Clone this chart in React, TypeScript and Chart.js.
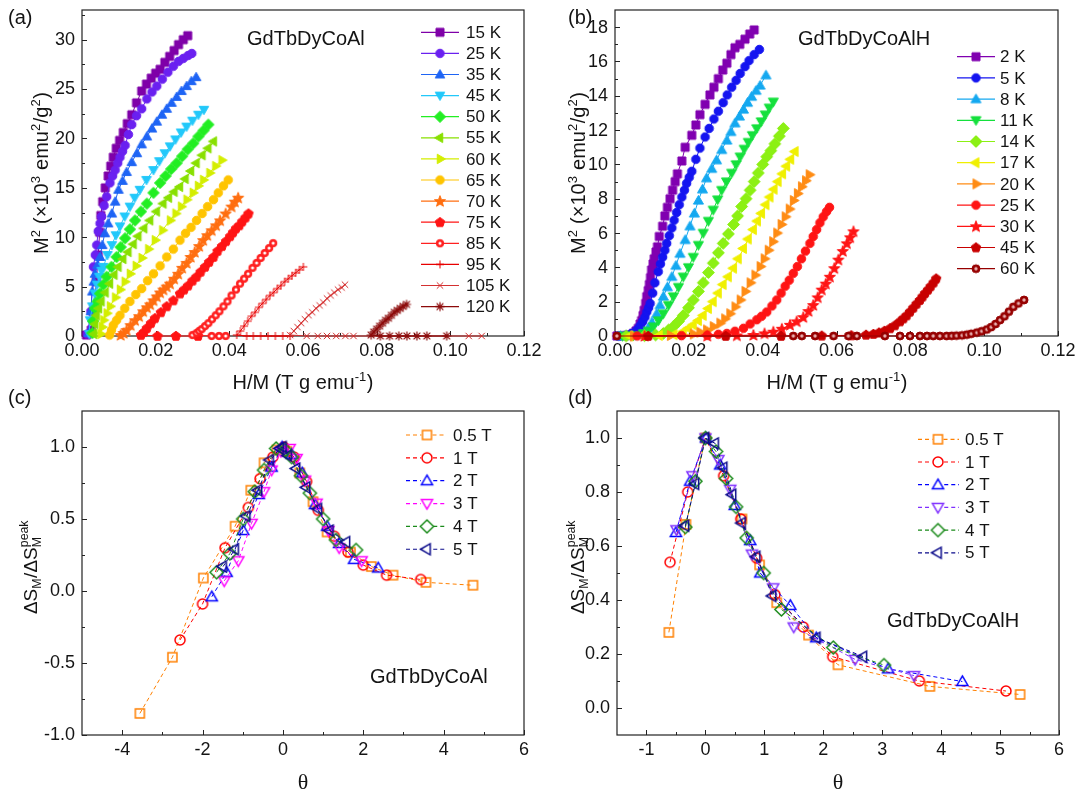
import React, { useEffect, useRef } from 'react';
import { Chart, registerables } from 'chart.js';

Chart.register(...registerables);

type Pt = [number, number];
type Seg = { t: string; k?: 'sup' | 'sub'; over?: string };

const SANS = '"Liberation Sans", Arial, Helvetica, sans-serif';
const SERIF = '"Liberation Serif", "Times New Roman", serif';
const INK = '#141414';

// ================= Panel (a) : GdTbDyCoAl Arrott plot =================
const A_X_TICKS = [0, 0.02, 0.04, 0.06, 0.08, 0.1, 0.12];
const A_X_LABELS = ['0.00', '0.02', '0.04', '0.06', '0.08', '0.10', '0.12'];
const A_X_MINOR = [0.01, 0.03, 0.05, 0.07, 0.09, 0.11];
const A_Y_TICKS = [0, 5, 10, 15, 20, 25, 30];
const A_Y_LABELS = ['0', '5', '10', '15', '20', '25', '30'];
const A_Y_MINOR = [2.5, 7.5, 12.5, 17.5, 22.5, 27.5, 32.5];
const A_TEMPS = ['15 K', '25 K', '35 K', '45 K', '50 K', '55 K', '60 K', '65 K', '70 K', '75 K', '85 K', '95 K', '105 K', '120 K'];

const A_15K: Pt[] = [[0.0012,0.1],[0.0025,0.6],[0.0033,2.8],[0.0039,5.5],[0.0044,8.2],[0.0048,10.5],[0.0051,12.2],[0.0056,13.6],[0.0063,15.0],[0.0071,16.2],[0.0078,17.2],[0.0085,18.1],[0.0093,19.0],[0.0102,19.8],[0.0112,20.6],[0.0123,21.5],[0.0135,22.4],[0.0148,23.6],[0.0162,24.8],[0.0175,25.5],[0.0188,26.1],[0.0200,26.6],[0.0212,27.0],[0.0225,27.7],[0.0238,28.3],[0.0250,28.9],[0.0262,29.5],[0.0275,30.0],[0.0287,30.4]];
const A_25K: Pt[] = [[0.0015,0.2],[0.0024,2.5],[0.0031,7.0],[0.0036,8.2],[0.0040,9.2],[0.0044,10.6],[0.0049,11.4],[0.0053,12.1],[0.0060,13.2],[0.0067,14.1],[0.0076,15.5],[0.0083,16.2],[0.0090,16.8],[0.0097,17.5],[0.0103,18.1],[0.0110,18.7],[0.0117,19.3],[0.0126,20.4],[0.0135,21.4],[0.0148,22.3],[0.0162,23.0],[0.0176,24.0],[0.0190,24.7],[0.0203,25.3],[0.0218,26.0],[0.0233,26.7],[0.0248,27.3],[0.0262,27.8],[0.0275,28.1],[0.0288,28.4],[0.0298,28.6]];
const A_35K: Pt[] = [[0.0018,0.3],[0.0024,2.5],[0.0028,4.5],[0.0032,5.5],[0.0035,6.3],[0.0042,7.2],[0.0049,8.0],[0.0055,9.2],[0.0062,10.4],[0.0071,11.4],[0.0081,12.4],[0.0090,13.6],[0.0099,14.8],[0.0110,15.7],[0.0121,16.6],[0.0135,17.6],[0.0149,18.5],[0.0162,19.4],[0.0176,20.2],[0.0190,21.0],[0.0203,21.7],[0.0217,22.4],[0.0230,23.0],[0.0243,23.6],[0.0257,24.2],[0.0270,24.8],[0.0284,25.3],[0.0297,25.8],[0.0310,26.2]];
const A_45K: Pt[] = [[0.0020,0.2],[0.0022,1.6],[0.0028,3.0],[0.0035,4.3],[0.0041,5.2],[0.0047,6.0],[0.0053,6.6],[0.0058,7.0],[0.0069,8.2],[0.0081,9.2],[0.0092,10.2],[0.0103,11.1],[0.0116,12.1],[0.0130,13.1],[0.0143,14.0],[0.0157,14.8],[0.0175,15.8],[0.0194,16.8],[0.0210,17.7],[0.0225,18.5],[0.0239,19.2],[0.0254,19.9],[0.0269,20.6],[0.0284,21.2],[0.0300,21.8],[0.0316,22.4],[0.0331,22.9]];
const A_50K: Pt[] = [[0.0028,0.3],[0.0030,1.5],[0.0035,2.8],[0.0042,3.5],[0.0049,4.3],[0.0058,5.2],[0.0067,6.0],[0.0080,7.0],[0.0094,8.0],[0.0105,9.0],[0.0117,9.9],[0.0130,10.8],[0.0144,11.7],[0.0160,12.6],[0.0176,13.4],[0.0194,14.5],[0.0212,15.5],[0.0227,16.2],[0.0242,16.9],[0.0257,17.5],[0.0272,18.2],[0.0287,18.9],[0.0302,19.5],[0.0316,20.2],[0.0330,20.8],[0.0343,21.4]];
const A_55K: Pt[] = [[0.0033,0.2],[0.0036,1.2],[0.0040,2.1],[0.0046,2.8],[0.0053,3.5],[0.0064,4.4],[0.0076,5.3],[0.0088,6.2],[0.0099,7.0],[0.0112,7.8],[0.0126,8.5],[0.0140,9.3],[0.0153,10.1],[0.0169,10.9],[0.0185,11.7],[0.0203,12.6],[0.0221,13.4],[0.0236,14.0],[0.0251,14.6],[0.0266,15.1],[0.0281,15.9],[0.0296,16.7],[0.0311,17.5],[0.0327,18.3],[0.0343,19.0],[0.0358,19.7]];
const A_60K: Pt[] = [[0.0050,0.2],[0.0054,0.9],[0.0058,1.6],[0.0067,2.3],[0.0076,3.0],[0.0090,3.9],[0.0103,4.7],[0.0116,5.5],[0.0130,6.3],[0.0146,7.1],[0.0162,7.9],[0.0180,8.8],[0.0198,9.7],[0.0218,10.7],[0.0239,11.7],[0.0254,12.4],[0.0269,13.1],[0.0284,13.8],[0.0301,14.5],[0.0315,15.2],[0.0329,15.8],[0.0346,16.5],[0.0362,17.2],[0.0379,17.8]];
const A_65K: Pt[] = [[0.0075,0.1],[0.0080,0.6],[0.0085,1.1],[0.0094,1.6],[0.0103,2.1],[0.0116,2.8],[0.0130,3.5],[0.0146,4.2],[0.0162,4.8],[0.0178,5.6],[0.0194,6.3],[0.0212,7.1],[0.0230,8.0],[0.0248,8.8],[0.0266,9.7],[0.0281,10.4],[0.0296,11.0],[0.0311,11.7],[0.0326,12.4],[0.0341,13.1],[0.0357,13.8],[0.0370,14.5],[0.0384,15.2],[0.0397,15.8]];
const A_70K: Pt[] = [[0.0105,0.1],[0.0113,0.3],[0.0121,0.6],[0.0132,1.1],[0.0144,1.6],[0.0155,2.0],[0.0166,2.5],[0.0176,2.9],[0.0185,3.2],[0.0194,3.6],[0.0203,4.0],[0.0212,4.4],[0.0221,4.7],[0.0230,5.0],[0.0239,5.3],[0.0250,5.8],[0.0261,6.3],[0.0272,6.9],[0.0284,7.4],[0.0295,8.0],[0.0306,8.5],[0.0318,9.1],[0.0329,9.7],[0.0340,10.2],[0.0352,10.7],[0.0364,11.2],[0.0375,11.7],[0.0390,12.4],[0.0406,13.1],[0.0415,13.6],[0.0424,14.0]];
const A_75K: Pt[] = [[0.0315,0.0],[0.0255,0.0],[0.0205,0.0],[0.0160,0.1],[0.0168,0.4],[0.0176,0.8],[0.0187,1.3],[0.0198,1.8],[0.0214,2.4],[0.0230,3.0],[0.0248,3.6],[0.0266,4.3],[0.0277,4.7],[0.0288,5.1],[0.0300,5.6],[0.0311,6.0],[0.0322,6.5],[0.0334,7.0],[0.0345,7.5],[0.0357,8.0],[0.0368,8.6],[0.0380,9.1],[0.0391,9.6],[0.0402,10.1],[0.0410,10.5],[0.0418,10.9],[0.0427,11.2],[0.0435,11.6],[0.0444,12.0],[0.0452,12.4]];
const A_85K: Pt[] = [[0.0390,0.0],[0.0372,0.0],[0.0352,0.0],[0.0300,0.1],[0.0311,0.3],[0.0318,0.5],[0.0325,0.7],[0.0334,1.0],[0.0343,1.3],[0.0353,1.7],[0.0363,2.1],[0.0373,2.5],[0.0384,3.0],[0.0395,3.5],[0.0406,4.1],[0.0418,4.7],[0.0429,5.3],[0.0440,5.8],[0.0451,6.3],[0.0463,6.9],[0.0474,7.4],[0.0485,7.9],[0.0496,8.4],[0.0508,8.9],[0.0519,9.4]];
const A_95K: Pt[] = [[0.0565,0.0],[0.0545,0.0],[0.0525,0.0],[0.0505,0.0],[0.0485,0.0],[0.0465,0.0],[0.0447,0.0],[0.0420,0.1],[0.0430,0.5],[0.0440,1.0],[0.0450,1.5],[0.0460,2.0],[0.0470,2.4],[0.0480,2.9],[0.0490,3.3],[0.0500,3.7],[0.0510,4.1],[0.0520,4.4],[0.0530,4.8],[0.0540,5.1],[0.0550,5.5],[0.0560,5.8],[0.0570,6.1],[0.0580,6.4],[0.0590,6.7],[0.0601,7.0]];
const A_105K: Pt[] = [[0.1085,0.0],[0.1050,0.0],[0.0737,0.0],[0.0715,0.0],[0.0690,0.0],[0.0665,0.0],[0.0640,0.0],[0.0610,0.0],[0.0565,0.1],[0.0575,0.5],[0.0585,0.9],[0.0595,1.3],[0.0605,1.7],[0.0615,2.1],[0.0625,2.4],[0.0635,2.8],[0.0645,3.1],[0.0655,3.4],[0.0665,3.8],[0.0675,4.1],[0.0685,4.4],[0.0695,4.7],[0.0705,4.9],[0.0714,5.2]];
const A_120K: Pt[] = [[0.0990,0.0],[0.0936,0.0],[0.0909,0.0],[0.0882,0.0],[0.0860,0.0],[0.0835,0.0],[0.0810,0.0],[0.0785,0.1],[0.0792,0.4],[0.0800,0.7],[0.0808,1.0],[0.0816,1.3],[0.0824,1.6],[0.0832,1.8],[0.0840,2.1],[0.0848,2.4],[0.0856,2.6],[0.0864,2.8],[0.0872,3.0],[0.0881,3.2]];

// ================= Panel (b) : GdTbDyCoAlH Arrott plot =================
const B_X_TICKS = A_X_TICKS;
const B_X_LABELS = A_X_LABELS;
const B_X_MINOR = A_X_MINOR;
const B_Y_TICKS = [0, 2, 4, 6, 8, 10, 12, 14, 16, 18];
const B_Y_LABELS = ['0', '2', '4', '6', '8', '10', '12', '14', '16', '18'];
const B_Y_MINOR = [1, 3, 5, 7, 9, 11, 13, 15, 17];
const B_TEMPS = ['2 K', '5 K', '8 K', '11 K', '14 K', '17 K', '20 K', '25 K', '30 K', '45 K', '60 K'];

const B_2K: Pt[] = [[0.0005,0],[0.0025,0.02],[0.0040,0.05],[0.0050,0.15],[0.0057,0.3],[0.0063,0.45],[0.0068,0.7],[0.0072,0.9],[0.0076,1.2],[0.0079,1.5],[0.0083,1.9],[0.0086,2.3],[0.0090,2.65],[0.0093,3.0],[0.0096,3.4],[0.0099,3.85],[0.0103,4.2],[0.0106,4.5],[0.0111,4.9],[0.0115,5.2],[0.0120,5.8],[0.0129,6.4],[0.0135,7.0],[0.0142,7.5],[0.0149,8.0],[0.0156,8.5],[0.0163,9.0],[0.0169,9.45],[0.0181,10.2],[0.0190,11.0],[0.0208,11.7],[0.0219,12.3],[0.0230,12.9],[0.0244,13.5],[0.0257,14.05],[0.0268,14.5],[0.0280,15.0],[0.0292,15.5],[0.0303,15.9],[0.0314,16.4],[0.0325,16.8],[0.0338,17.0],[0.0352,17.3],[0.0365,17.6],[0.0377,17.84]];
const B_5K: Pt[] = [[0.0010,0],[0.0030,0.05],[0.0045,0.15],[0.0059,0.35],[0.0068,0.6],[0.0075,0.85],[0.0081,1.1],[0.0086,1.4],[0.0091,1.65],[0.0095,1.9],[0.0102,2.5],[0.0108,3.1],[0.0117,3.75],[0.0123,4.2],[0.0129,4.6],[0.0135,5.0],[0.0140,5.4],[0.0147,5.85],[0.0154,6.3],[0.0160,6.75],[0.0167,7.2],[0.0174,7.65],[0.0181,8.1],[0.0188,8.5],[0.0194,8.9],[0.0201,9.25],[0.0208,9.6],[0.0219,10.3],[0.0230,10.95],[0.0244,11.6],[0.0255,12.1],[0.0268,12.65],[0.0280,13.1],[0.0293,13.6],[0.0304,14.05],[0.0316,14.5],[0.0328,14.9],[0.0339,15.3],[0.0352,15.7],[0.0363,16.05],[0.0377,16.4],[0.0391,16.7]];
const B_8K: Pt[] = [[0.0015,0],[0.0045,0.02],[0.0070,0.1],[0.0080,0.2],[0.0090,0.45],[0.0100,0.8],[0.0113,1.3],[0.0122,1.8],[0.0131,2.3],[0.0142,2.85],[0.0154,3.45],[0.0165,4.1],[0.0176,4.8],[0.0190,5.6],[0.0203,6.4],[0.0215,7.15],[0.0226,7.9],[0.0237,8.55],[0.0248,9.2],[0.0262,9.75],[0.0275,10.25],[0.0289,10.85],[0.0303,11.4],[0.0314,11.9],[0.0325,12.4],[0.0337,12.8],[0.0348,13.2],[0.0359,13.6],[0.0370,13.95],[0.0382,14.3],[0.0393,14.6],[0.0409,15.2]];
const B_11K: Pt[] = [[0.0020,0],[0.0050,0.03],[0.0077,0.15],[0.0090,0.3],[0.0104,0.55],[0.0118,0.9],[0.0131,1.3],[0.0145,1.8],[0.0158,2.3],[0.0172,2.85],[0.0185,3.45],[0.0199,4.0],[0.0212,4.6],[0.0226,5.3],[0.0239,6.0],[0.0253,6.7],[0.0266,7.35],[0.0278,7.95],[0.0289,8.5],[0.0302,9.0],[0.0316,9.5],[0.0328,10.0],[0.0339,10.45],[0.0350,10.9],[0.0361,11.3],[0.0372,11.7],[0.0384,12.1],[0.0396,12.5],[0.0407,12.9],[0.0418,13.3],[0.0429,13.65]];
const B_14K: Pt[] = [[0.0030,0],[0.0080,0.02],[0.0110,0.06],[0.0131,0.15],[0.0145,0.35],[0.0158,0.55],[0.0172,0.85],[0.0185,1.2],[0.0199,1.65],[0.0212,2.1],[0.0226,2.6],[0.0239,3.1],[0.0253,3.7],[0.0266,4.25],[0.0280,4.85],[0.0293,5.4],[0.0307,5.95],[0.0321,6.5],[0.0332,7.0],[0.0343,7.55],[0.0355,8.0],[0.0366,8.5],[0.0377,9.0],[0.0388,9.5],[0.0400,10.0],[0.0411,10.45],[0.0422,10.8],[0.0433,11.2],[0.0445,11.65],[0.0456,12.1]];
const B_17K: Pt[] = [[0.0040,0],[0.0120,0.03],[0.0160,0.08],[0.0185,0.25],[0.0199,0.45],[0.0212,0.65],[0.0226,0.9],[0.0239,1.2],[0.0253,1.6],[0.0266,2.0],[0.0280,2.5],[0.0293,3.0],[0.0307,3.45],[0.0321,3.95],[0.0334,4.5],[0.0348,5.1],[0.0361,5.65],[0.0375,6.2],[0.0386,6.7],[0.0397,7.15],[0.0409,7.65],[0.0420,8.1],[0.0431,8.55],[0.0442,9.0],[0.0454,9.45],[0.0465,9.9],[0.0476,10.3],[0.0488,10.75]];
const B_20K: Pt[] = [[0.0050,0],[0.0150,0.03],[0.0212,0.12],[0.0230,0.22],[0.0248,0.35],[0.0266,0.55],[0.0284,0.75],[0.0297,1.0],[0.0311,1.3],[0.0325,1.7],[0.0339,2.1],[0.0352,2.6],[0.0366,3.1],[0.0379,3.55],[0.0393,4.05],[0.0404,4.5],[0.0415,5.0],[0.0427,5.5],[0.0438,6.0],[0.0450,6.5],[0.0461,6.95],[0.0472,7.4],[0.0483,7.9],[0.0494,8.3],[0.0505,8.7],[0.0516,9.05],[0.0526,9.4]];
const B_25K: Pt[] = [[0.0060,0],[0.0180,0.02],[0.0250,0.05],[0.0280,0.1],[0.0303,0.15],[0.0325,0.28],[0.0348,0.45],[0.0366,0.7],[0.0384,0.95],[0.0397,1.15],[0.0411,1.4],[0.0425,1.75],[0.0438,2.1],[0.0450,2.5],[0.0461,2.9],[0.0472,3.25],[0.0483,3.65],[0.0494,4.05],[0.0505,4.5],[0.0516,4.95],[0.0528,5.4],[0.0537,5.8],[0.0546,6.2],[0.0555,6.6],[0.0564,6.95],[0.0573,7.25],[0.0581,7.5]];
const B_30K: Pt[] = [[0.0080,0],[0.0250,0.01],[0.0330,0.03],[0.0375,0.06],[0.0405,0.15],[0.0429,0.25],[0.0452,0.42],[0.0474,0.65],[0.0492,0.85],[0.0510,1.1],[0.0524,1.45],[0.0537,1.8],[0.0549,2.25],[0.0560,2.7],[0.0571,3.05],[0.0582,3.45],[0.0594,3.95],[0.0605,4.45],[0.0617,4.95],[0.0628,5.4],[0.0637,5.75],[0.0646,6.1]];
const B_45K: Pt[] = [[0.0090,0],[0.0300,0],[0.0450,0],[0.0560,0.02],[0.0640,0.04],[0.0680,0.07],[0.0700,0.12],[0.0715,0.2],[0.0730,0.3],[0.0745,0.45],[0.0758,0.62],[0.0772,0.85],[0.0781,1.02],[0.0790,1.2],[0.0799,1.42],[0.0808,1.65],[0.0817,1.88],[0.0826,2.1],[0.0833,2.3],[0.0840,2.5],[0.0848,2.7],[0.0855,2.9],[0.0863,3.12],[0.0870,3.35]];
const B_60K: Pt[] = [[0.0005,0],[0.0483,0],[0.0506,0],[0.0542,0],[0.0592,0],[0.0632,0],[0.0655,0],[0.0731,0],[0.0772,0],[0.0799,0],[0.0826,0],[0.0845,0],[0.0862,0],[0.0880,0],[0.0898,0],[0.0912,0.01],[0.0925,0.02],[0.0940,0.04],[0.0953,0.08],[0.0965,0.13],[0.0980,0.2],[0.0993,0.28],[0.1007,0.38],[0.1019,0.52],[0.1031,0.7],[0.1043,0.93],[0.1055,1.15],[0.1067,1.42],[0.1079,1.7],[0.1093,1.9],[0.1108,2.1]];

// ================= Panel (c) : scaled entropy, GdTbDyCoAl =================
const C_X_TICKS = [-4, -2, 0, 2, 4, 6];
const C_X_LABELS = ['-4', '-2', '0', '2', '4', '6'];
const C_X_MINOR = [-3, -1, 1, 3, 5];
const C_Y_TICKS = [-1, -0.5, 0, 0.5, 1];
const C_Y_LABELS = ['-1.0', '-0.5', '0.0', '0.5', '1.0'];
const C_Y_MINOR = [-0.75, -0.25, 0.25, 0.75];
const FIELDS = ['0.5 T', '1 T', '2 T', '3 T', '4 T', '5 T'];

const C_05T: Pt[] = [[-3.56,-0.85],[-2.75,-0.46],[-1.98,0.09],[-1.19,0.45],[-0.80,0.70],[-0.47,0.89],[-0.15,0.98],[0.10,0.97],[0.42,0.82],[0.75,0.62],[1.10,0.41],[1.68,0.27],[2.20,0.17],[2.74,0.11],[3.56,0.06],[4.73,0.04]];
const C_1T: Pt[] = [[-2.56,-0.34],[-2.00,-0.09],[-1.44,0.30],[-0.86,0.58],[-0.57,0.78],[-0.25,0.93],[0.02,1.0],[0.28,0.93],[0.59,0.76],[0.88,0.56],[1.28,0.38],[1.62,0.27],[2.00,0.18],[2.58,0.11],[3.43,0.08]];
const C_2T: Pt[] = [[-1.77,-0.04],[-1.40,0.13],[-0.99,0.42],[-0.60,0.67],[-0.28,0.86],[-0.02,1.0],[0.22,0.95],[0.48,0.82],[0.80,0.60],[1.10,0.45],[1.40,0.33],[1.77,0.22],[2.37,0.16]];
const C_3T: Pt[] = [[-1.46,0.07],[-1.11,0.21],[-0.78,0.47],[-0.47,0.69],[-0.28,0.84],[-0.05,0.97],[0.17,0.99],[0.34,0.92],[0.55,0.77],[0.84,0.61],[1.13,0.42],[1.40,0.30],[1.96,0.21]];
const C_4T: Pt[] = [[-1.65,0.13],[-1.32,0.26],[-0.99,0.50],[-0.70,0.69],[-0.47,0.84],[-0.17,0.99],[0.05,0.98],[0.22,0.93],[0.45,0.80],[0.67,0.68],[1.00,0.50],[1.32,0.355],[1.82,0.285]];
const C_5T: Pt[] = [[-1.49,0.17],[-1.19,0.29],[-0.90,0.52],[-0.61,0.70],[-0.32,0.91],[-0.07,0.99],[0.00,1.0],[0.13,0.94],[0.34,0.85],[0.59,0.72],[0.88,0.57],[1.17,0.42],[1.58,0.34]];

// ================= Panel (d) : scaled entropy, GdTbDyCoAlH =================
const D_X_TICKS = [-1, 0, 1, 2, 3, 4, 5, 6];
const D_X_LABELS = ['-1', '0', '1', '2', '3', '4', '5', '6'];
const D_X_MINOR = [-0.5, 0.5, 1.5, 2.5, 3.5, 4.5, 5.5];
const D_Y_TICKS = [0, 0.2, 0.4, 0.6, 0.8, 1.0];
const D_Y_LABELS = ['0.0', '0.2', '0.4', '0.6', '0.8', '1.0'];
const D_Y_MINOR = [0.1, 0.3, 0.5, 0.7, 0.9];

const D_05T: Pt[] = [[-0.62,0.28],[-0.33,0.68],[0.00,1.0],[0.62,0.70],[0.92,0.53],[1.21,0.39],[1.75,0.27],[2.25,0.16],[3.81,0.08],[5.34,0.05]];
const D_1T: Pt[] = [[-0.60,0.54],[-0.30,0.80],[0.00,1.0],[0.31,0.86],[0.60,0.70],[0.87,0.555],[1.18,0.42],[1.66,0.30],[2.16,0.19],[3.63,0.10],[5.10,0.063]];
const D_2T: Pt[] = [[-0.50,0.65],[-0.26,0.84],[0.01,1.0],[0.25,0.90],[0.50,0.75],[0.76,0.62],[0.93,0.50],[1.44,0.38],[1.88,0.26],[3.10,0.145],[4.36,0.098]];
const D_3T: Pt[] = [[-0.49,0.66],[-0.22,0.86],[0.00,1.0],[0.22,0.92],[0.42,0.81],[0.79,0.57],[1.15,0.445],[1.50,0.30],[2.54,0.18],[3.54,0.12]];
const D_4T: Pt[] = [[-0.34,0.67],[-0.17,0.84],[0.00,1.0],[0.18,0.95],[0.35,0.85],[0.52,0.745],[0.70,0.63],[0.99,0.50],[1.29,0.365],[2.17,0.224],[3.03,0.159]];
const D_5T: Pt[] = [[-0.34,0.675],[-0.17,0.83],[0.00,1.0],[0.165,0.98],[0.31,0.89],[0.46,0.79],[0.62,0.685],[0.87,0.56],[1.14,0.415],[1.89,0.26],[2.68,0.19]];

// ================= styles =================
interface MarkerSpec { shape: string; size: number; fill: string | null; stroke: string; lw: number; dot?: string }
interface SeriesSpec { label: string; data: Pt[]; line: string; dash?: number[]; marker: MarkerSpec }
interface TextItem { t: string; x: number; y: number; size: number; fam?: string }
interface RichItem { segs: Seg[]; x: number; y: number; size: number; fam: string; rot?: number }
interface AxisSpec { min: number; max: number; ticks: number[]; labels: string[]; minor: number[] }
interface PanelSpec {
  left: number; top: number; width: number; height: number;
  area: { l: number; t: number; r: number; b: number };
  x: AxisSpec; y: AxisSpec; tickSize: number;
  xTitle: RichItem; yTitle: RichItem; texts: TextItem[];
  legend: { x1: number; x2: number; mx: number; tx: number; y0: number; dy: number; size: number };
  series: SeriesSpec[];
}

const filled = (shape: string, c: string, size: number, dot?: string): MarkerSpec => ({ shape, size, fill: c, stroke: c, lw: 1, dot });
const stroked = (shape: string, c: string, size: number, lw = 1): MarkerSpec => ({ shape, size, fill: null, stroke: c, lw });

const A_STYLE: { c: string; m: MarkerSpec }[] = [
  { c: '#7F00A8', m: filled('square', '#7F00A8', 8) },
  { c: '#6A20F0', m: filled('circle', '#6A20F0', 8.5) },
  { c: '#1E64F5', m: filled('triUp', '#1E64F5', 9) },
  { c: '#22C8FA', m: filled('triDown', '#22C8FA', 9) },
  { c: '#22EE22', m: filled('diamond', '#22EE22', 9) },
  { c: '#88E000', m: filled('triLeft', '#88E000', 9) },
  { c: '#D4EE00', m: filled('triRight', '#D4EE00', 9) },
  { c: '#FFC400', m: filled('circle', '#FFC400', 8.5) },
  { c: '#FF6E10', m: filled('star', '#FF6E10', 9) },
  { c: '#FF1414', m: filled('pentagon', '#FF1414', 9) },
  { c: '#FF2020', m: filled('circleDot', '#FF2020', 7.5, '#FFFFFF') },
  { c: '#E80000', m: stroked('plus', '#E80000', 8) },
  { c: '#D43030', m: stroked('cross', '#D43030', 8) },
  { c: '#8C0A0A', m: stroked('asterisk', '#8C0A0A', 9, 1.2) },
];
const B_STYLE: { c: string; m: MarkerSpec }[] = [
  { c: '#8000B0', m: filled('square', '#8000B0', 8) },
  { c: '#1414F0', m: filled('circle', '#1414F0', 8.5) },
  { c: '#14A8F0', m: filled('triUp', '#14A8F0', 9.5) },
  { c: '#14E03C', m: filled('triDown', '#14E03C', 9.5) },
  { c: '#8CF014', m: filled('diamond', '#8CF014', 9.5) },
  { c: '#F0F000', m: filled('triLeft', '#F0F000', 9.5) },
  { c: '#FF8C14', m: filled('triRight', '#FF8C14', 9.5) },
  { c: '#FF1414', m: filled('circle', '#FF1414', 8.5) },
  { c: '#FF1414', m: filled('star', '#FF1414', 9) },
  { c: '#C80000', m: filled('pentagon', '#C80000', 9) },
  { c: '#960000', m: filled('circleDot', '#960000', 8, '#E8B0B0') },
];
const C_STYLE: { c: string; m: MarkerSpec }[] = [
  { c: '#FF8000', m: stroked('square', '#FF8000', 9, 1.5) },
  { c: '#FF0000', m: stroked('circle', '#FF0000', 10, 1.5) },
  { c: '#0000FF', m: stroked('triUp', '#0000FF', 10.5, 1.5) },
  { c: '#FF00FF', m: stroked('triDown', '#FF00FF', 10.5, 1.5) },
  { c: '#1A8A1A', m: stroked('diamond', '#1A8A1A', 10.5, 1.5) },
  { c: '#0A0A8A', m: stroked('triLeft', '#0A0A8A', 10.5, 1.5) },
];
const D_STYLE = C_STYLE.map((s, i) => (i === 3 ? { c: '#7F2FFF', m: stroked('triDown', '#7F2FFF', 10.5, 1.5) } : s));
const DASH = [4, 3];

const mkSeries = (labels: string[], data: Pt[][], style: { c: string; m: MarkerSpec }[], dash?: number[]): SeriesSpec[] =>
  labels.map((label, i) => ({ label, data: data[i], line: style[i].c, dash, marker: style[i].m }));

const HM_TITLE: Seg[] = [{ t: 'H/M (T g emu' }, { t: '-1', k: 'sup' }, { t: ')' }];
const M2_TITLE: Seg[] = [{ t: 'M' }, { t: '2', k: 'sup' }, { t: ' (×10' }, { t: '3', k: 'sup' }, { t: ' emu' }, { t: '2', k: 'sup' }, { t: '/g' }, { t: '2', k: 'sup' }, { t: ')' }];
const DS_TITLE: Seg[] = [{ t: 'ΔS' }, { t: 'M', k: 'sub' }, { t: '/ΔS' }, { t: 'M', k: 'sub', over: 'peak' }];
const TH_TITLE: Seg[] = [{ t: 'θ' }];

const PANELS: PanelSpec[] = [
  {
    left: 0, top: 0, width: 541, height: 395,
    area: { l: 82, t: 10, r: 524, b: 336 },
    x: { min: 0, max: 0.12, ticks: A_X_TICKS, labels: A_X_LABELS, minor: A_X_MINOR },
    y: { min: 0, max: 33, ticks: A_Y_TICKS, labels: A_Y_LABELS, minor: A_Y_MINOR },
    tickSize: 18,
    xTitle: { segs: HM_TITLE, x: 303, y: 382, size: 20, fam: SANS },
    yTitle: { segs: M2_TITLE, x: 41, y: 173, size: 20, fam: SANS, rot: -Math.PI / 2 },
    texts: [{ t: '(a)', x: 8, y: 18, size: 20 }, { t: 'GdTbDyCoAl', x: 247, y: 39, size: 20 }],
    legend: { x1: 421, x2: 459, mx: 440, tx: 466, y0: 32.3, dy: 21.1, size: 17 },
    series: mkSeries(A_TEMPS, [A_15K, A_25K, A_35K, A_45K, A_50K, A_55K, A_60K, A_65K, A_70K, A_75K, A_85K, A_95K, A_105K, A_120K], A_STYLE),
  },
  {
    left: 541, top: 0, width: 542, height: 395,
    area: { l: 615, t: 10, r: 1058, b: 336 },
    x: { min: 0, max: 0.12, ticks: B_X_TICKS, labels: B_X_LABELS, minor: B_X_MINOR },
    y: { min: 0, max: 19, ticks: B_Y_TICKS, labels: B_Y_LABELS, minor: B_Y_MINOR },
    tickSize: 18,
    xTitle: { segs: HM_TITLE, x: 837, y: 382, size: 20, fam: SANS },
    yTitle: { segs: M2_TITLE, x: 578, y: 173, size: 20, fam: SANS, rot: -Math.PI / 2 },
    texts: [{ t: '(b)', x: 568, y: 18, size: 20 }, { t: 'GdTbDyCoAlH', x: 798, y: 39, size: 20 }],
    legend: { x1: 957, x2: 995, mx: 976, tx: 1000, y0: 56.7, dy: 21.2, size: 17 },
    series: mkSeries(B_TEMPS, [B_2K, B_5K, B_8K, B_11K, B_14K, B_17K, B_20K, B_25K, B_30K, B_45K, B_60K], B_STYLE),
  },
  {
    left: 0, top: 380, width: 541, height: 409,
    area: { l: 82, t: 411, r: 524, b: 735 },
    x: { min: -5, max: 6, ticks: C_X_TICKS, labels: C_X_LABELS, minor: C_X_MINOR },
    y: { min: -1, max: 1.25, ticks: C_Y_TICKS, labels: C_Y_LABELS, minor: C_Y_MINOR },
    tickSize: 18,
    xTitle: { segs: TH_TITLE, x: 303, y: 781, size: 22, fam: SERIF },
    yTitle: { segs: DS_TITLE, x: 30, y: 567, size: 19, fam: SANS, rot: -Math.PI / 2 },
    texts: [{ t: '(c)', x: 8, y: 398, size: 20 }, { t: 'GdTbDyCoAl', x: 370, y: 677, size: 20 }],
    legend: { x1: 406, x2: 446, mx: 427, tx: 453, y0: 435, dy: 22.85, size: 17 },
    series: mkSeries(FIELDS, [C_05T, C_1T, C_2T, C_3T, C_4T, C_5T], C_STYLE, DASH),
  },
  {
    left: 541, top: 380, width: 542, height: 409,
    area: { l: 617, t: 411, r: 1059, b: 735 },
    x: { min: -1.5, max: 6, ticks: D_X_TICKS, labels: D_X_LABELS, minor: D_X_MINOR },
    y: { min: -0.1, max: 1.1, ticks: D_Y_TICKS, labels: D_Y_LABELS, minor: D_Y_MINOR },
    tickSize: 18,
    xTitle: { segs: TH_TITLE, x: 838, y: 781, size: 22, fam: SERIF },
    yTitle: { segs: DS_TITLE, x: 577, y: 567, size: 19, fam: SANS, rot: -Math.PI / 2 },
    texts: [{ t: '(d)', x: 568, y: 398, size: 20 }, { t: 'GdTbDyCoAlH', x: 887, y: 621, size: 20 }],
    legend: { x1: 918, x2: 959, mx: 938, tx: 965, y0: 439.3, dy: 22.7, size: 17 },
    series: mkSeries(FIELDS, [D_05T, D_1T, D_2T, D_3T, D_4T, D_5T], D_STYLE, DASH),
  },
];

// ================= drawing helpers =================
function makeMarker(m: MarkerSpec): HTMLCanvasElement {
  const dim = Math.ceil(m.size * 1.5 + m.lw * 2 + 4);
  const c = document.createElement('canvas');
  c.width = dim; c.height = dim;
  const g = c.getContext('2d')!;
  const cx = dim / 2, cy = dim / 2, r = m.size / 2;
  g.lineWidth = m.lw; g.strokeStyle = m.stroke; g.fillStyle = m.fill || 'rgba(0,0,0,0)';
  g.lineJoin = 'miter';
  const poly = (pts: number[][]) => {
    g.beginPath();
    pts.forEach(([x, y], i) => (i ? g.lineTo(cx + x, cy + y) : g.moveTo(cx + x, cy + y)));
    g.closePath();
  };
  const reg = (n: number, rad: number, start: number, dy = 0) => {
    const pts: number[][] = [];
    for (let i = 0; i < n; i++) {
      const a = ((start + (i * 360) / n) * Math.PI) / 180;
      pts.push([rad * Math.cos(a), rad * Math.sin(a) + dy]);
    }
    poly(pts);
  };
  let strokeOnly = false;
  switch (m.shape) {
    case 'square': g.beginPath(); g.rect(cx - r, cy - r, 2 * r, 2 * r); break;
    case 'circle': case 'circleDot': g.beginPath(); g.arc(cx, cy, r, 0, Math.PI * 2); break;
    case 'triUp': reg(3, r * 1.22, -90, r * 0.15); break;
    case 'triDown': reg(3, r * 1.22, 90, -r * 0.15); break;
    case 'triLeft': reg(3, r * 1.22, 180); break;
    case 'triRight': reg(3, r * 1.22, 0); break;
    case 'diamond': reg(4, r * 1.25, -90); break;
    case 'pentagon': reg(5, r * 1.1, -90, r * 0.05); break;
    case 'star': {
      const pts: number[][] = [];
      for (let i = 0; i < 10; i++) {
        const a = ((-90 + i * 36) * Math.PI) / 180;
        const rr = i % 2 === 0 ? r * 1.3 : r * 0.55;
        pts.push([rr * Math.cos(a), rr * Math.sin(a) + r * 0.1]);
      }
      poly(pts);
      break;
    }
    case 'plus':
      strokeOnly = true; g.beginPath();
      g.moveTo(cx - r, cy); g.lineTo(cx + r, cy); g.moveTo(cx, cy - r); g.lineTo(cx, cy + r);
      break;
    case 'cross': {
      strokeOnly = true; const d = r * 0.8; g.beginPath();
      g.moveTo(cx - d, cy - d); g.lineTo(cx + d, cy + d); g.moveTo(cx - d, cy + d); g.lineTo(cx + d, cy - d);
      break;
    }
    case 'asterisk': {
      strokeOnly = true; const d = r * 0.75; g.beginPath();
      g.moveTo(cx - r, cy); g.lineTo(cx + r, cy); g.moveTo(cx, cy - r); g.lineTo(cx, cy + r);
      g.moveTo(cx - d, cy - d); g.lineTo(cx + d, cy + d); g.moveTo(cx - d, cy + d); g.lineTo(cx + d, cy - d);
      break;
    }
  }
  if (!strokeOnly && m.fill) g.fill();
  g.stroke();
  if (m.shape === 'circleDot') {
    g.beginPath(); g.arc(cx, cy, r * 0.42, 0, Math.PI * 2); g.fillStyle = m.dot || '#fff'; g.fill();
  }
  return c;
}

function segWidth(ctx: CanvasRenderingContext2D, s: Seg, size: number, fam: string) {
  if (!s.k) { ctx.font = `${size}px ${fam}`; return ctx.measureText(s.t).width; }
  ctx.font = `${size * 0.65}px ${fam}`;
  let w = ctx.measureText(s.t).width;
  if (s.over) w = Math.max(w, ctx.measureText(s.over).width);
  return w + size * 0.03;
}

function drawRich(ctx: CanvasRenderingContext2D, it: RichItem, ox: number, oy: number) {
  const { segs, size, fam } = it;
  ctx.save();
  ctx.translate(it.x - ox, it.y - oy);
  if (it.rot) ctx.rotate(it.rot);
  const total = segs.reduce((a, s) => a + segWidth(ctx, s, size, fam), 0);
  let cx = -total / 2;
  const base = size * 0.36;
  ctx.textAlign = 'left'; ctx.textBaseline = 'alphabetic'; ctx.fillStyle = INK;
  for (const s of segs) {
    const w = segWidth(ctx, s, size, fam);
    if (!s.k) {
      ctx.font = `${size}px ${fam}`;
      ctx.fillText(s.t, cx, base);
    } else {
      ctx.font = `${size * 0.65}px ${fam}`;
      const off = s.k === 'sup' ? -size * 0.4 : size * 0.22;
      ctx.fillText(s.t, cx, base + off);
      if (s.over) ctx.fillText(s.over, cx, base - size * 0.45);
    }
    cx += w;
  }
  ctx.restore();
}

function decorPlugin(p: PanelSpec, imgs: HTMLCanvasElement[]) {
  return {
    id: 'decor',
    beforeDatasetsDraw(chart: any) {
      const ctx: CanvasRenderingContext2D = chart.ctx;
      const ca = chart.chartArea;
      const xs = chart.scales.x, ys = chart.scales.y;
      ctx.save();
      ctx.strokeStyle = '#222';
      ctx.lineWidth = 1.2;
      ctx.strokeRect(ca.left, ca.top, ca.right - ca.left, ca.bottom - ca.top);
      ctx.lineWidth = 1;
      ctx.beginPath();
      const xt = (vals: number[], len: number) => vals.forEach((v) => {
        const x = Math.round(xs.getPixelForValue(v)) + 0.5;
        ctx.moveTo(x, ca.bottom); ctx.lineTo(x, ca.bottom - len);
      });
      const yt = (vals: number[], len: number) => vals.forEach((v) => {
        const y = Math.round(ys.getPixelForValue(v)) + 0.5;
        ctx.moveTo(ca.left, y); ctx.lineTo(ca.left + len, y);
      });
      xt(p.x.ticks, 5); xt(p.x.minor, 3);
      yt(p.y.ticks, 5); yt(p.y.minor, 3);
      ctx.stroke();
      ctx.restore();
    },
    afterDraw(chart: any) {
      const ctx: CanvasRenderingContext2D = chart.ctx;
      const ca = chart.chartArea;
      const xs = chart.scales.x, ys = chart.scales.y;
      const ox = p.left, oy = p.top;
      ctx.save();
      ctx.fillStyle = INK;
      ctx.font = `${p.tickSize}px ${SANS}`;
      ctx.textAlign = 'center'; ctx.textBaseline = 'middle';
      p.x.ticks.forEach((v, i) => ctx.fillText(p.x.labels[i], xs.getPixelForValue(v), ca.bottom + 15));
      ctx.textAlign = 'right';
      p.y.ticks.forEach((v, i) => ctx.fillText(p.y.labels[i], ca.left - 7, ys.getPixelForValue(v) + 0.5));
      drawRich(ctx, p.xTitle, ox, oy);
      drawRich(ctx, p.yTitle, ox, oy);
      ctx.textAlign = 'left'; ctx.textBaseline = 'middle'; ctx.fillStyle = INK;
      p.texts.forEach((t) => {
        ctx.font = `${t.size}px ${t.fam || SANS}`;
        ctx.fillText(t.t, t.x - ox, t.y - oy);
      });
      // legend
      const L = p.legend;
      p.series.forEach((s, i) => {
        const y = L.y0 + i * L.dy - oy;
        const img = imgs[i];
        const r = s.marker.size / 2 + 1;
        ctx.strokeStyle = s.line;
        ctx.lineWidth = 1.2;
        ctx.setLineDash(s.dash || []);
        ctx.beginPath();
        if (s.dash) {
          ctx.moveTo(L.x1 - ox, y); ctx.lineTo(L.mx - r - ox, y);
          ctx.moveTo(L.mx + r - ox, y); ctx.lineTo(L.x2 - ox, y);
        } else {
          ctx.moveTo(L.x1 - ox, y); ctx.lineTo(L.x2 - ox, y);
        }
        ctx.stroke();
        ctx.setLineDash([]);
        ctx.drawImage(img, L.mx - ox - img.width / 2, y - img.height / 2);
        ctx.fillStyle = INK;
        ctx.font = `${L.size}px ${SANS}`;
        ctx.textAlign = 'left'; ctx.textBaseline = 'middle';
        ctx.fillText(s.label, L.tx - ox, y + 1);
      });
      ctx.restore();
    },
  };
}

function buildConfig(p: PanelSpec): any {
  const imgs = p.series.map((s) => makeMarker(s.marker));
  const n = p.series.length;
  return {
    type: 'scatter',
    data: {
      datasets: p.series.map((s, i) => ({
        label: s.label,
        data: s.data.map(([x, y]) => ({ x, y })),
        showLine: true,
        borderColor: s.line,
        backgroundColor: s.line,
        borderWidth: 1,
        borderDash: s.dash || [],
        pointStyle: imgs[i],
        pointRadius: 4,
        pointHoverRadius: 4,
        pointHitRadius: 0,
        tension: 0,
        clip: false,
        order: n - i,
      })),
    },
    options: {
      animation: false,
      responsive: false,
      maintainAspectRatio: false,
      devicePixelRatio: 1,
      events: [],
      layout: { padding: { left: 0, top: p.area.t - p.top, right: p.left + p.width - p.area.r, bottom: 0 } },
      plugins: { legend: { display: false }, tooltip: { enabled: false }, title: { display: false } },
      scales: {
        x: {
          type: 'linear', min: p.x.min, max: p.x.max,
          grid: { display: false }, border: { display: false }, ticks: { display: false },
          afterFit: (sc: any) => { sc.height = p.top + p.height - p.area.b; },
        },
        y: {
          type: 'linear', min: p.y.min, max: p.y.max,
          grid: { display: false }, border: { display: false }, ticks: { display: false },
          afterFit: (sc: any) => { sc.width = p.area.l - p.left; },
        },
      },
    },
    plugins: [decorPlugin(p, imgs)],
  };
}

function PanelChart({ spec }: { spec: PanelSpec }) {
  const ref = useRef<HTMLCanvasElement>(null);
  useEffect(() => {
    const canvas = ref.current;
    if (!canvas) return;
    const chart = new Chart(canvas, buildConfig(spec));
    return () => chart.destroy();
  }, [spec]);
  return (
    <canvas
      ref={ref}
      width={spec.width}
      height={spec.height}
      style={{ position: 'absolute', left: spec.left, top: spec.top, width: spec.width, height: spec.height }}
    />
  );
}

export default function App() {
  return (
    <div style={{ position: 'absolute', left: 0, top: 0, width: 1083, height: 789, background: '#ffffff', overflow: 'hidden' }}>
      {PANELS.map((p, i) => (
        <PanelChart key={i} spec={p} />
      ))}
    </div>
  );
}
